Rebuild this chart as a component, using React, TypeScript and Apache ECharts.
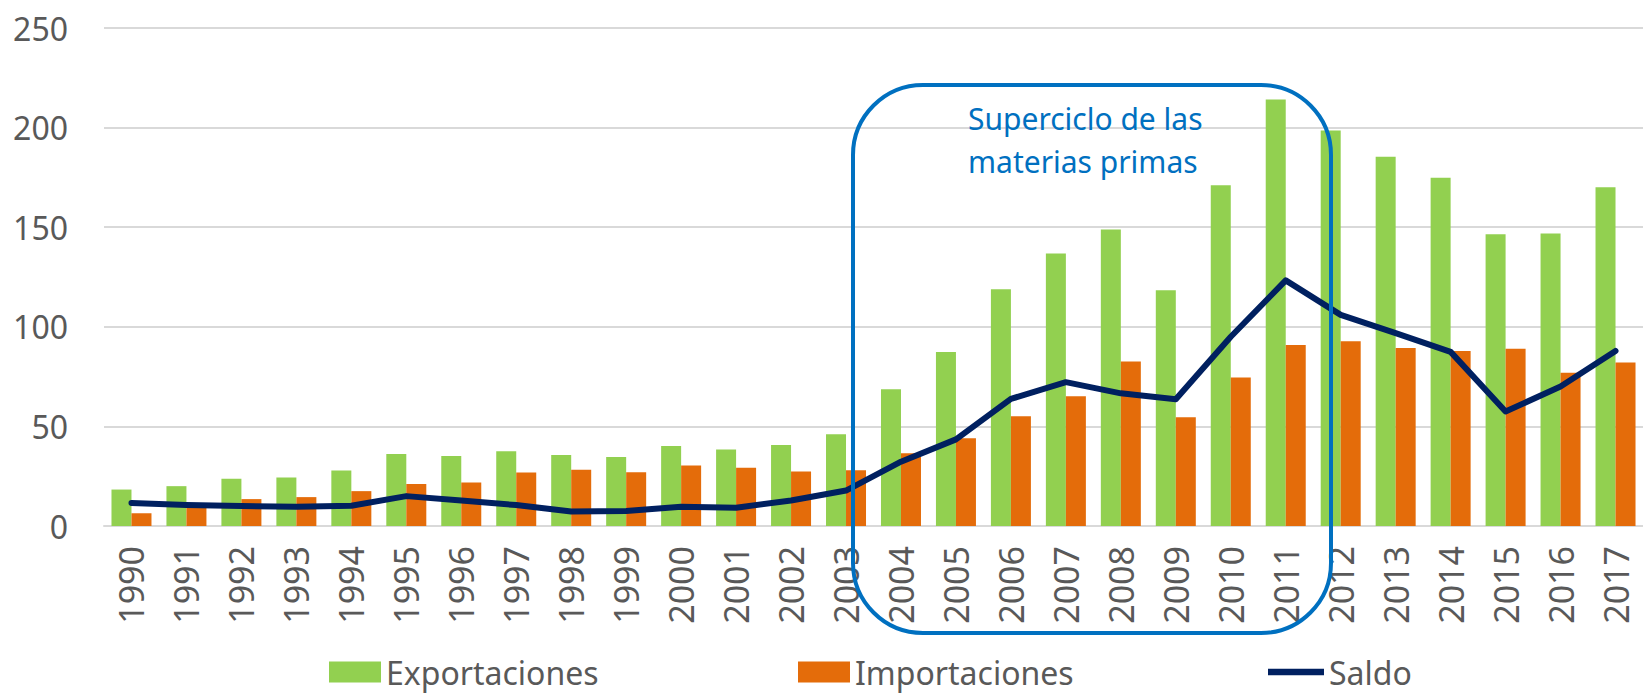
import React, { useEffect, useRef } from "react";
import * as echarts from "echarts";

const years = [
  "1990", "1991", "1992", "1993", "1994", "1995", "1996", "1997", "1998", "1999",
  "2000", "2001", "2002", "2003", "2004", "2005", "2006", "2007", "2008", "2009",
  "2010", "2011", "2012", "2013", "2014", "2015", "2016", "2017",
];
const exportaciones = [
  18.3, 20.0, 23.7, 24.4, 27.8, 36.1, 35.1, 37.5, 35.6, 34.7,
  40.1, 38.4, 40.6, 46.1, 68.6, 87.4, 118.9, 136.8, 148.9, 118.3,
  171.0, 214.1, 198.5, 185.4, 174.8, 146.5, 146.9, 170.0,
];
const importaciones = [
  6.4, 9.6, 13.5, 14.5, 17.5, 21.1, 21.9, 26.8, 28.3, 27.0,
  30.4, 29.2, 27.3, 28.0, 36.5, 44.1, 55.1, 65.1, 82.6, 54.6,
  74.6, 90.9, 92.8, 89.3, 87.8, 89.0, 76.9, 82.1,
];
const saldo = [
  11.6, 10.5, 10.0, 9.7, 10.2, 15.0, 12.8, 10.5, 7.3, 7.5,
  9.7, 9.2, 12.8, 17.8, 32.3, 43.5, 63.8, 72.2, 66.6, 63.6,
  95.0, 123.3, 106.0, 96.8, 87.4, 57.5, 70.0, 87.9,
];
const yTicks = { min: 0, max: 250, interval: 50 };
const annotationLines = ["Superciclo de las", "materias primas"];

const FONT = "'Noto Sans', 'Open Sans', sans-serif";
const GRAY = "#595959";

export default function App() {
  const ref = useRef<HTMLDivElement>(null);

  useEffect(() => {
    if (!ref.current) return;
    const chart = echarts.init(ref.current, null, { renderer: "svg" });
    const legendText = { fontSize: 32, color: GRAY, fontFamily: FONT };
    chart.setOption({
      animation: false,
      textStyle: { fontFamily: FONT },
      grid: { left: 104, right: -14, top: 28, bottom: 167, containLabel: false },
      legend: [
        {
          data: ["Exportaciones"], left: 329, top: 656, itemWidth: 52, itemHeight: 21,
          itemGap: 6, textStyle: legendText, icon: "rect", padding: 0,
        },
        {
          data: ["Importaciones"], left: 798, top: 656, itemWidth: 52, itemHeight: 21,
          itemGap: 6, textStyle: legendText, icon: "rect", padding: 0,
        },
        {
          data: [{ name: "Saldo", icon: "path://M0,0 L52,0 L52,6 L0,6 Z" }], left: 1268, top: 656,
          itemWidth: 56, itemHeight: 21, itemGap: 6, textStyle: legendText, padding: 0,
        },
      ],
      xAxis: {
        type: "category",
        data: years,
        axisLine: { show: true, lineStyle: { color: "#D9D9D9", width: 2 } },
        axisTick: { show: false },
        axisLabel: { rotate: 90, fontSize: 34, color: GRAY, margin: 20, fontFamily: FONT },
      },
      yAxis: {
        type: "value",
        min: yTicks.min,
        max: yTicks.max,
        interval: yTicks.interval,
        axisLine: { show: false },
        axisTick: { show: false },
        splitLine: { lineStyle: { color: "#D9D9D9", width: 2 } },
        axisLabel: { fontSize: 32, color: GRAY, margin: 36, fontFamily: FONT },
      },
      series: [
        {
          name: "Exportaciones", type: "bar", data: exportaciones, barWidth: 20, barGap: "0%",
          itemStyle: { color: "#92D050" },
        },
        {
          name: "Importaciones", type: "bar", data: importaciones, barWidth: 20, barGap: "0%",
          itemStyle: { color: "#E46C0A" },
        },
        {
          name: "Saldo", type: "line", data: saldo, symbol: "none",
          lineStyle: { color: "#002060", width: 6, cap: "round", join: "round" },
          itemStyle: { color: "#002060" },
          z: 5,
        },
      ],
      graphic: [
        {
          type: "rect",
          z: 10,
          shape: { x: 853, y: 85, width: 478, height: 548, r: 70 },
          style: { fill: "none", stroke: "#0070C0", lineWidth: 4 },
        },
        {
          type: "text",
          z: 10,
          x: 968,
          y: 97,
          style: {
            text: annotationLines.join("\n"),
            fontSize: 30,
            lineHeight: 43,
            fill: "#0070C0",
            fontFamily: FONT,
          },
        },
      ],
    });
    return () => chart.dispose();
  }, []);

  return (
    <div style={{ position: "fixed", left: 0, top: 0, width: 1643, height: 693, overflow: "hidden", background: "#fff" }}>
      <div ref={ref} style={{ width: 1643, height: 693 }} />
    </div>
  );
}
